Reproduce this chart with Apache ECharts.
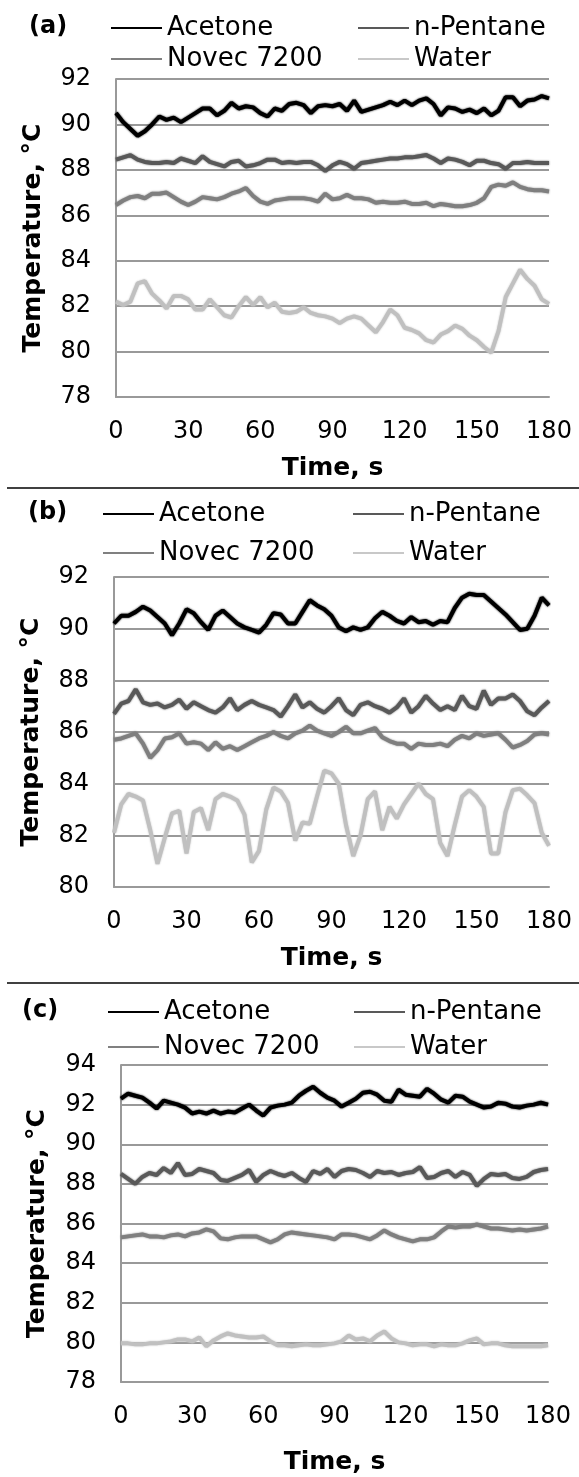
<!DOCTYPE html>
<html>
<head>
<meta charset="utf-8">
<script src="https://cdn.jsdelivr.net/npm/echarts@6/dist/echarts.min.js"></script>
<style>
  html, body { margin: 0; padding: 0; background: #fff; }
  #chart { width: 579px; height: 1477px; }
</style>
</head>
<body>
<div id="chart"></div>
<script>
// Sampling instants, seconds
const TIME = [0,3,6,9,12,15,18,21,24,27,30,33,36,39,42,45,48,51,54,57,60,63,66,69,72,75,78,81,84,87,90,
  93,96,99,102,105,108,111,114,117,120,123,126,129,132,135,138,141,144,147,150,153,156,159,162,165,168,171,174,177,180];

const SERIES_NAMES = ['Acetone', 'n-Pentane', 'Novec 7200', 'Water'];
const PANEL_LABELS = ['(a)', '(b)', '(c)'];
const X_TITLE = 'Time, s';
const Y_TITLE = 'Temperature, °C';

// Panel (a) temperatures, °C
const acetoneA = [90.5,90.1,89.8,89.5,89.7,90.0,90.35,90.2,90.3,90.1,90.3,90.5,90.7,90.7,90.4,90.6,90.95,90.7,90.8,90.75,90.5,
  90.35,90.7,90.6,90.9,90.95,90.85,90.5,90.8,90.85,90.8,90.9,90.6,91.05,90.55,90.65,90.75,90.85,91.0,90.85,91.05,
  90.85,91.05,91.15,90.9,90.4,90.75,90.7,90.55,90.65,90.5,90.7,90.4,90.6,91.2,91.2,90.8,91.05,91.1,91.25,91.15];
const pentaneA = [88.45,88.55,88.65,88.45,88.35,88.3,88.3,88.35,88.3,88.5,88.4,88.3,88.6,88.35,88.25,88.15,88.35,88.4,88.15,88.2,88.3,
  88.45,88.45,88.3,88.35,88.3,88.35,88.35,88.2,87.95,88.2,88.35,88.25,88.05,88.3,88.35,88.4,88.45,88.5,88.5,88.55,
  88.55,88.6,88.65,88.5,88.3,88.5,88.45,88.35,88.2,88.4,88.4,88.3,88.25,88.05,88.3,88.3,88.35,88.3,88.3,88.3];
const novecA = [86.45,86.65,86.8,86.85,86.75,86.95,86.95,87.0,86.8,86.6,86.45,86.6,86.8,86.75,86.7,86.8,86.95,87.05,87.2,86.85,86.6,
  86.5,86.65,86.7,86.75,86.75,86.75,86.7,86.6,86.95,86.7,86.75,86.9,86.75,86.75,86.7,86.55,86.6,86.55,86.55,86.6,
  86.5,86.5,86.55,86.4,86.5,86.45,86.4,86.4,86.45,86.55,86.75,87.25,87.35,87.3,87.45,87.25,87.15,87.1,87.1,87.05];
const waterA = [82.2,82.05,82.2,83.0,83.1,82.55,82.25,81.9,82.45,82.45,82.3,81.85,81.85,82.3,81.95,81.6,81.5,82.0,82.4,82.05,82.4,
  81.95,82.15,81.75,81.7,81.75,81.95,81.7,81.6,81.55,81.45,81.25,81.45,81.55,81.45,81.15,80.85,81.3,81.85,81.6,81.05,
  80.95,80.8,80.5,80.4,80.75,80.9,81.15,81.0,80.7,80.5,80.2,79.95,80.9,82.4,83.0,83.6,83.2,82.9,82.3,82.1];

// Panel (b) temperatures, °C
const acetoneB = [90.2,90.5,90.5,90.65,90.85,90.7,90.45,90.2,89.75,90.2,90.75,90.6,90.25,89.95,90.5,90.7,90.45,90.2,90.05,89.95,89.85,
  90.15,90.6,90.55,90.2,90.2,90.65,91.1,90.9,90.75,90.5,90.05,89.9,90.05,89.95,90.05,90.4,90.65,90.5,90.3,90.2,
  90.45,90.25,90.3,90.15,90.3,90.25,90.8,91.2,91.35,91.3,91.3,91.05,90.8,90.55,90.25,89.95,90.0,90.5,91.2,90.9];
const pentaneB = [86.7,87.1,87.2,87.65,87.15,87.05,87.1,86.95,87.05,87.25,86.9,87.15,87.0,86.85,86.75,86.95,87.3,86.85,87.05,87.2,87.05,
  86.95,86.85,86.6,87.0,87.45,86.95,87.15,86.9,86.75,87.0,87.3,86.85,86.65,87.05,87.15,87.0,86.9,86.75,86.95,87.3,
  86.75,87.0,87.4,87.1,86.85,87.0,86.85,87.4,87.0,86.9,87.6,87.05,87.3,87.3,87.45,87.2,86.8,86.65,86.95,87.2];
const novecB = [85.7,85.75,85.85,85.95,85.55,85.0,85.3,85.75,85.8,85.95,85.55,85.6,85.55,85.3,85.6,85.35,85.45,85.3,85.45,85.6,85.75,
  85.85,86.0,85.85,85.75,85.95,86.05,86.25,86.05,85.95,85.85,86.0,86.2,85.95,85.95,86.05,86.15,85.8,85.65,85.55,85.55,
  85.35,85.55,85.5,85.5,85.55,85.45,85.7,85.85,85.75,85.95,85.85,85.9,85.95,85.7,85.4,85.5,85.65,85.9,85.95,85.9];
const waterB = [82.1,83.2,83.6,83.5,83.35,82.2,80.9,81.9,82.85,82.95,81.3,82.9,83.05,82.2,83.4,83.6,83.5,83.35,82.8,80.95,81.4,
  83.0,83.85,83.7,83.25,81.8,82.5,82.45,83.5,84.5,84.4,84.0,82.4,81.2,82.0,83.4,83.7,82.2,83.1,82.65,83.2,
  83.6,84.0,83.6,83.4,81.7,81.2,82.4,83.5,83.75,83.5,83.1,81.3,81.3,82.9,83.75,83.8,83.55,83.25,82.1,81.6];

// Panel (c) temperatures, °C
const acetoneC = [92.3,92.55,92.45,92.35,92.1,91.8,92.2,92.1,92.0,91.85,91.55,91.65,91.55,91.7,91.55,91.65,91.6,91.8,92.0,91.7,91.45,
  91.85,91.95,92.0,92.1,92.45,92.7,92.9,92.6,92.35,92.2,91.9,92.1,92.3,92.6,92.65,92.5,92.2,92.15,92.75,92.5,
  92.45,92.4,92.8,92.55,92.25,92.1,92.45,92.4,92.15,92.0,91.85,91.9,92.1,92.05,91.9,91.85,91.95,92.0,92.1,92.0];
const pentaneC = [88.5,88.25,88.0,88.35,88.55,88.45,88.8,88.55,89.05,88.45,88.5,88.75,88.65,88.55,88.2,88.15,88.3,88.45,88.7,88.1,88.45,
  88.65,88.5,88.4,88.55,88.3,88.1,88.65,88.5,88.75,88.35,88.65,88.75,88.7,88.55,88.35,88.65,88.55,88.6,88.45,88.55,
  88.6,88.85,88.3,88.35,88.55,88.65,88.35,88.6,88.45,87.9,88.25,88.5,88.45,88.5,88.3,88.25,88.35,88.6,88.7,88.75];
const novecC = [85.3,85.35,85.4,85.45,85.35,85.35,85.3,85.4,85.45,85.35,85.5,85.55,85.7,85.6,85.25,85.2,85.3,85.35,85.35,85.35,85.2,
  85.05,85.2,85.45,85.55,85.5,85.45,85.4,85.35,85.3,85.2,85.45,85.45,85.4,85.3,85.2,85.4,85.65,85.45,85.3,85.2,
  85.1,85.2,85.2,85.3,85.6,85.85,85.8,85.85,85.85,85.95,85.85,85.75,85.75,85.7,85.65,85.7,85.65,85.7,85.75,85.85];
const waterC = [79.95,79.95,79.9,79.9,79.95,79.95,80.0,80.05,80.15,80.15,80.05,80.25,79.8,80.1,80.3,80.45,80.35,80.3,80.25,80.25,80.3,
  80.05,79.85,79.85,79.8,79.85,79.9,79.85,79.85,79.9,79.95,80.05,80.35,80.15,80.2,80.05,80.35,80.55,80.2,80.0,79.95,
  79.85,79.9,79.9,79.8,79.9,79.85,79.85,79.95,80.1,80.2,79.9,79.95,79.95,79.85,79.8,79.8,79.8,79.8,79.8,79.85];

// Y axis ranges per panel
const Y_MIN = [78, 80, 78];
const Y_MAX = [92, 92, 94];

const FONT = 'DejaVu Sans';
const LINE_COLORS = ['#000000', '#595959', '#7f7f7f', '#c0c0c0'];
const LEGEND_COLORS = ['#000000', '#595959', '#808080', '#c8c8c8'];
const GRID_COLOR = '#999999';

const panelData = [
  [acetoneA, pentaneA, novecA, waterA],
  [acetoneB, pentaneB, novecB, waterB],
  [acetoneC, pentaneC, novecC, waterC]
];

// Layout of the three stacked panels (px)
const panels = [
  { grid: { left: 116, top: 79, width: 433, height: 318 }, xNameGap: 59, yNameGap: 70,
    label: { left: 29, top: 15 }, legendRows: [15, 46], legendCols: [111, 358] },
  { grid: { left: 114, top: 577, width: 435, height: 310 }, xNameGap: 59, yNameGap: 70,
    label: { left: 28, top: 501 }, legendRows: [501, 540], legendCols: [103, 353] },
  { grid: { left: 121, top: 1065, width: 427, height: 317 }, xNameGap: 68, yNameGap: 71,
    label: { left: 22, top: 999 }, legendRows: [999, 1034], legendCols: [108, 354] }
];

const grids = [], xAxes = [], yAxes = [], series = [], legends = [], titles = [];

panels.forEach((p, k) => {
  grids.push(p.grid);
  xAxes.push({
    type: 'value', gridIndex: k, min: 0, max: 180, interval: 30,
    name: X_TITLE, nameLocation: 'middle', nameGap: p.xNameGap,
    nameTextStyle: { fontFamily: FONT, fontSize: 25, fontWeight: 'bold', color: '#000' },
    axisLine: { show: true, lineStyle: { color: GRID_COLOR, width: 2 } },
    axisTick: { show: false },
    splitLine: { show: false },
    axisLabel: { fontFamily: FONT, fontSize: 24, color: '#000', margin: 23 }
  });
  yAxes.push({
    type: 'value', gridIndex: k, min: Y_MIN[k], max: Y_MAX[k], interval: 2,
    name: Y_TITLE, nameLocation: 'middle', nameGap: p.yNameGap,
    nameTextStyle: { fontFamily: FONT, fontSize: 25, fontWeight: 'bold', color: '#000' },
    axisLine: { show: true, lineStyle: { color: GRID_COLOR, width: 2 } },
    axisTick: { show: false },
    splitLine: { show: true, lineStyle: { color: GRID_COLOR, width: 2 } },
    axisLabel: { fontFamily: FONT, fontSize: 24, color: '#000', margin: 25 }
  });
  panelData[k].forEach((vals, j) => {
    series.push({
      type: 'line', name: SERIES_NAMES[j], xAxisIndex: k, yAxisIndex: k,
      data: TIME.map((t, i) => [t, vals[i]]),
      symbol: 'none', color: LINE_COLORS[j],
      lineStyle: { width: 4, color: LINE_COLORS[j], shadowColor: LINE_COLORS[j], shadowBlur: 2 },
      animation: false, z: 10 - j
    });
  });
  SERIES_NAMES.forEach((name, j) => {
    legends.push({
      data: [{ name, itemStyle: { color: LEGEND_COLORS[j] } }],
      left: p.legendCols[j % 2], top: p.legendRows[Math.floor(j / 2)],
      padding: 0, icon: 'rect', itemWidth: 51, itemHeight: 2,
      selectedMode: false,
      textStyle: { fontFamily: FONT, fontSize: 26, color: '#000' }
    });
  });
  titles.push({
    text: PANEL_LABELS[k], left: p.label.left, top: p.label.top, padding: 0,
    textStyle: { fontFamily: FONT, fontSize: 24, fontWeight: 'bold', color: '#000' }
  });
});

const chart = echarts.init(document.getElementById('chart'), null, { renderer: 'canvas' });
chart.setOption({
  backgroundColor: '#ffffff',
  animation: false,
  title: titles,
  legend: legends,
  grid: grids,
  xAxis: xAxes,
  yAxis: yAxes,
  series: series,
  graphic: [
    { type: 'line', shape: { x1: 7, y1: 488, x2: 579, y2: 488 }, style: { stroke: '#404040', lineWidth: 2 } },
    { type: 'line', shape: { x1: 7, y1: 983, x2: 579, y2: 983 }, style: { stroke: '#404040', lineWidth: 2 } }
  ]
});
</script>
</body>
</html>
